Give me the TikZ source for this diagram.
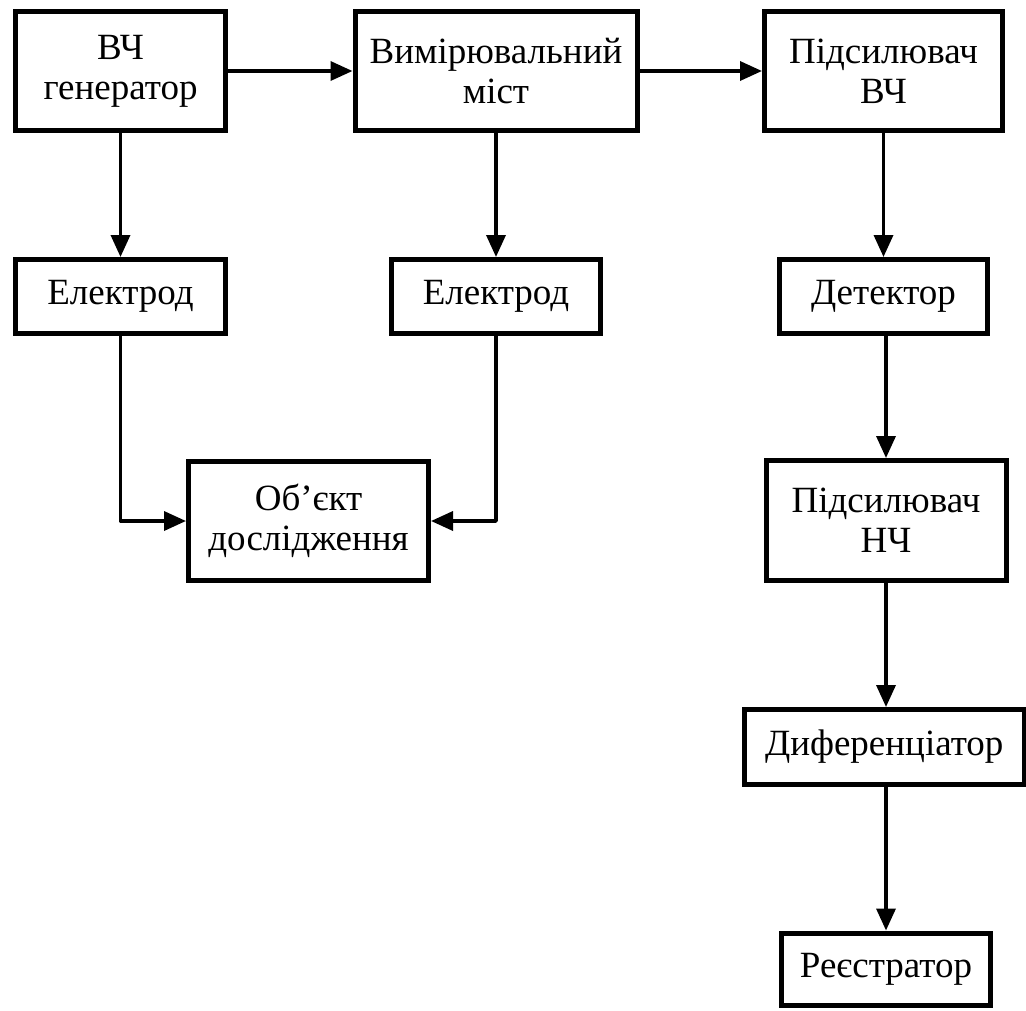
\documentclass[tikz,border=0pt]{standalone}
\usepackage{fontspec}
\setmainfont{Liberation Serif}
\usetikzlibrary{arrows.meta}
\begin{document}
\begin{tikzpicture}[x=1pt,y=-1pt,
  blk/.style 2 args={draw=black, line width=5pt, minimum width=#1, minimum height=#2,
    inner sep=0pt, align=center, font=\fontsize{37}{40}\selectfont},
  conn/.style={line width=3.5pt, line join=round, -{Triangle[length=22pt,width=19pt]}}]
\fill[white] (0,0) rectangle (1026,1010);
\useasboundingbox (0,0) rectangle (1026,1010);

\node[blk={210pt}{119pt}] (gen)    at (120.5,71)  {ВЧ\\генератор};
\node[blk={282pt}{119pt}] (bridge) at (496,71)    {Вимірювальний\\міст};
\node[blk={238pt}{119pt}] (amphf)  at (883.5,71)  {Підсилювач\\ВЧ};
\node[blk={210pt}{74pt}]  (elA)    at (120.5,296.5) {Електрод};
\node[blk={209pt}{74pt}]  (elB)    at (496,296.5)   {Електрод};
\node[blk={208pt}{74pt}]  (det)    at (883.5,296.5) {Детектор};
\node[blk={240pt}{119pt}] (obj)    at (308.5,521)   {Об’єкт\\дослідження};
\node[blk={240pt}{120pt}] (amplf)  at (886,520.5)   {Підсилювач\\НЧ};
\node[blk={279.5pt}{75pt}] (diff)  at (884.25,747)  {Диференціатор};
\node[blk={209pt}{72pt}]  (reg)    at (886,969)     {Реєстратор};

\draw[conn] (gen) -- (bridge);
\draw[conn] (bridge) -- (amphf);
\draw[conn] (gen) -- (elA);
\draw[conn] (bridge) -- (elB);
\draw[conn] (amphf) -- (det);
\draw[conn] (det.south -| amplf.north) -- (amplf.north);
\draw[conn] (amplf.south) -- (amplf.south |- diff.north);
\draw[conn] (diff.south -| reg.north) -- (reg.north);
\draw[conn] (elA.south) |- (obj.west);
\draw[conn] (elB.south) |- (obj.east);
\end{tikzpicture}
\end{document}
